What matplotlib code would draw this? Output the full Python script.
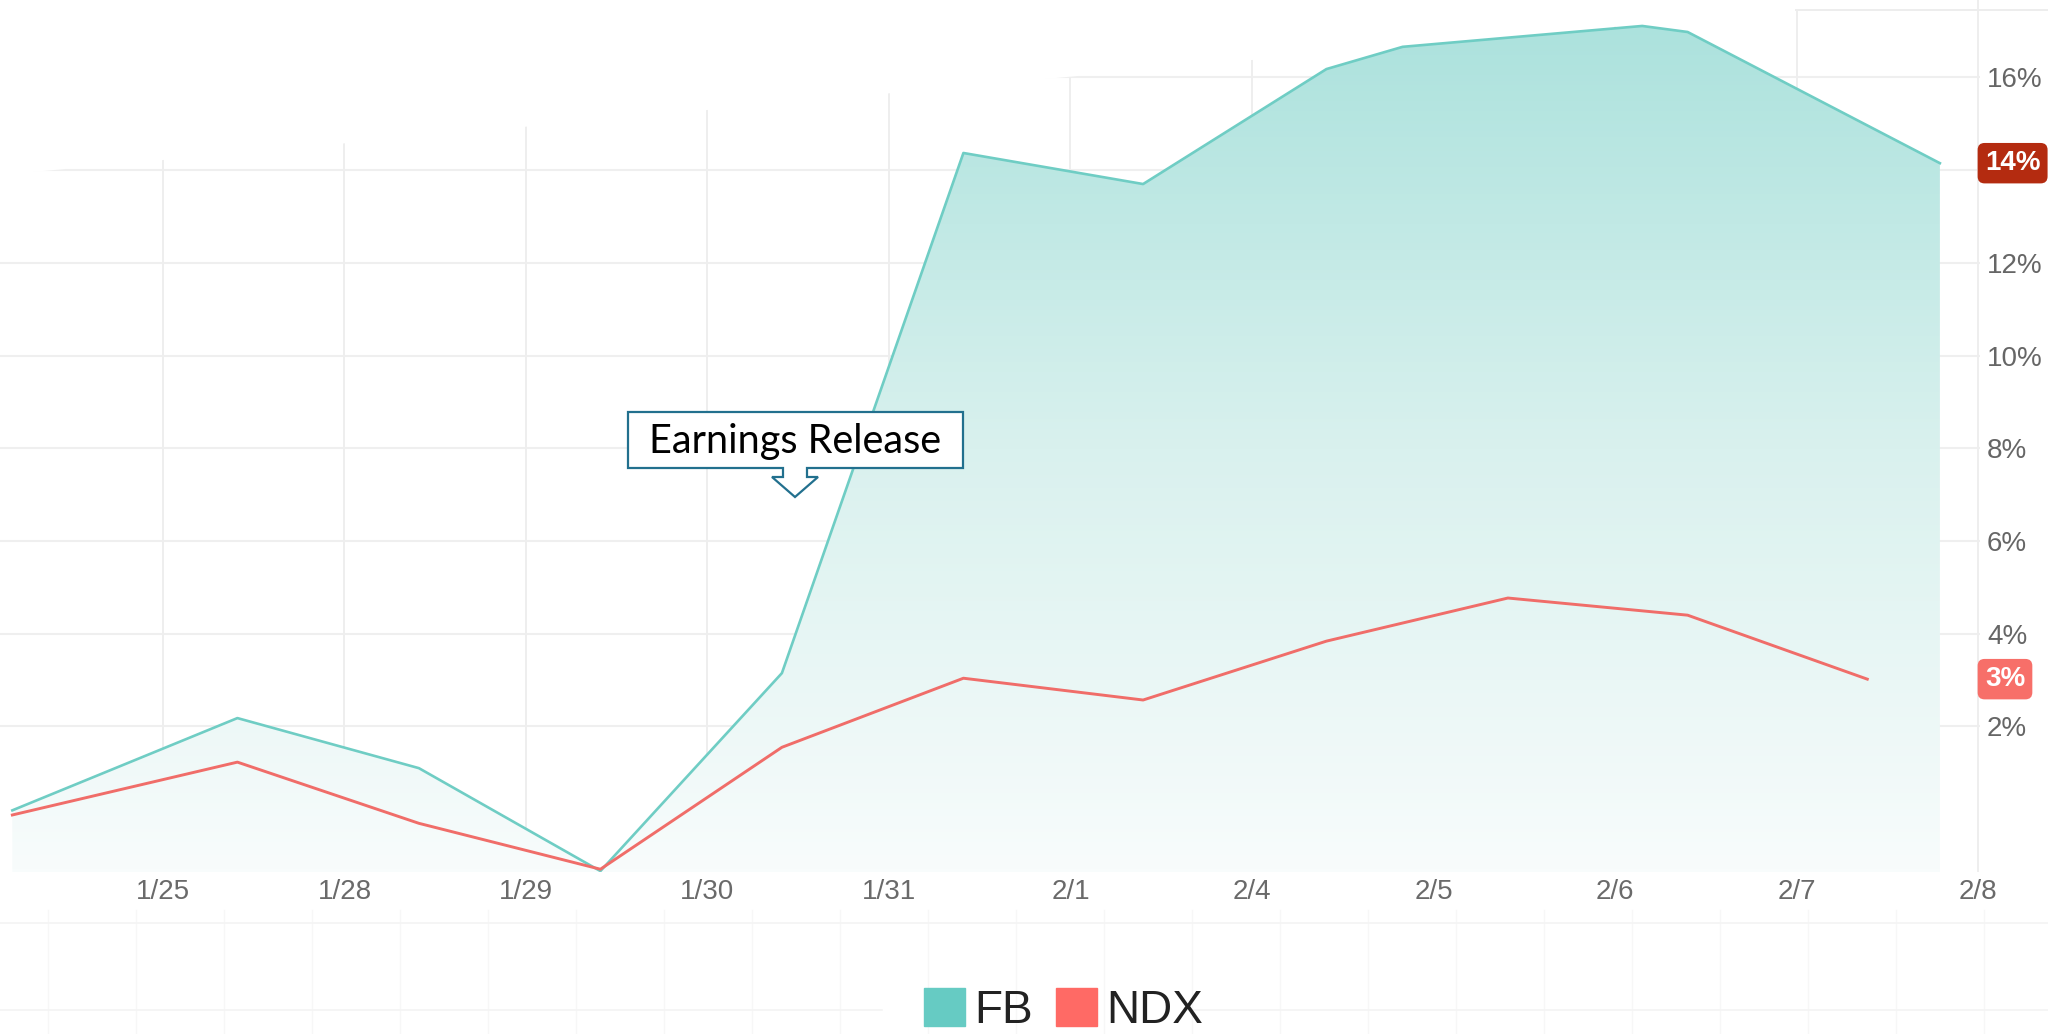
import matplotlib.pyplot as plt
import numpy as np
from matplotlib.patches import Patch, Polygon, Circle
from matplotlib.colors import LinearSegmentedColormap
from matplotlib.lines import Line2D

W, H, DPI = 2048, 1034, 100

# x tick labels (trading days)
days = ["1/25", "1/28", "1/29", "1/30", "1/31", "2/1", "2/4", "2/5", "2/6", "2/7", "2/8"]

# cumulative return in %, x in trading-day units (0 = the 1/25 tick)
fb_x = [-0.83, 0.41, 1.41, 2.41, 3.41, 4.41, 5.40, 6.41, 6.83, 8.15, 8.40, 9.79]
fb_y = [0.19, 2.18, 1.10, -1.12, 3.15, 14.37, 13.70, 16.18, 16.66, 17.11, 16.98, 14.15]
ndx_x = [-0.83, 0.41, 1.41, 2.41, 3.41, 4.41, 5.40, 6.41, 7.41, 8.40, 9.39]
ndx_y = [0.09, 1.23, -0.09, -1.08, 1.55, 3.04, 2.57, 3.84, 4.77, 4.40, 3.02]

y_grid = [2, 4, 6, 8, 10, 12, 14, 16]
y_labels = [2, 4, 6, 8, 10, 12, 16]  # 14% sits under the FB badge

fb_color = "#6fcdc4"
ndx_color = "#f06d69"

plt.rcParams["font.family"] = ["Liberation Sans", "DejaVu Sans"]


def fx(px):
    return px / W


def fy(py):
    return 1 - py / H


fig = plt.figure(figsize=(W / DPI, H / DPI), dpi=DPI)
fig.patch.set_facecolor("white")

ax = fig.add_axes([0, fy(872), fx(1980), 872 / H])
xmin, xmax = -0.898, 10.011
ymin, ymax = -1.14, 17.67

# grid
for v in y_grid:
    ax.axhline(v, color="#efefef", lw=1.5, zorder=0.5)
for i in range(len(days)):
    ax.axvline(i, color="#eeeeee", lw=1.4, zorder=0.5)

# white fade over the top-left corner (cuts the grid like in the screenshot)
ax.add_patch(Polygon([(0, 1), (fx(1905), 1), (0, fy(175))], closed=True,
                     transform=fig.transFigure, fc="white", ec="none", zorder=0.8))

# FB area with vertical gradient
fill = ax.fill_between(fb_x, fb_y, ymin, color="none", zorder=1)
cmap = LinearSegmentedColormap.from_list("fbfill", ["#f8fcfc", "#d9f1ee", "#ace2dd"])
grad = np.linspace(0, 1, 256).reshape(-1, 1)
im = ax.imshow(grad, extent=[xmin, xmax, ymin, max(fb_y)], origin="lower",
               aspect="auto", cmap=cmap, zorder=1)
im.set_clip_path(fill.get_paths()[0], transform=ax.transData)

ax.plot(fb_x, fb_y, color=fb_color, lw=1.9, zorder=3)
ax.plot(ndx_x, ndx_y, color=ndx_color, lw=2.1, zorder=3)

ax.set_xlim(xmin, xmax)
ax.set_ylim(ymin, ymax)

ax.set_xticks(range(len(days)), days)
ax.tick_params(axis="x", length=0, pad=5, labelsize=20, labelcolor="#6a6a6a")
ax.yaxis.tick_right()
ax.set_yticks(y_labels, [f"{v}%" for v in y_labels])
ax.tick_params(axis="y", length=0, pad=5, labelsize=20, labelcolor="#666666")
for s in ax.spines.values():
    s.set_visible(False)
ax.set_facecolor("none")

# last-value badges
for val, col in [(fb_y[-1], "#b42b10"), (ndx_y[-1], "#f76f69")]:
    ax.annotate(f"{round(val)}%", xy=(1, val), xycoords=("axes fraction", "data"),
                xytext=(3.5, 0), textcoords="offset points", ha="left", va="center",
                fontsize=20, fontweight="bold", color="white", annotation_clip=False,
                bbox=dict(boxstyle="round,pad=0.26,rounding_size=0.25", fc=col, ec="none"))

# callout "Earnings Release"
pts = [(628, 412), (963, 412), (963, 468), (807, 468), (807, 477), (818, 477),
       (795, 497), (772, 477), (783, 477), (783, 468), (628, 468)]
fig.add_artist(Polygon([(fx(x), fy(y)) for x, y in pts], closed=True,
                       transform=fig.transFigure, fc="white", ec="#22708e", lw=1.6, zorder=5))
fig.text(fx(795), fy(441), "Earnings Release", family=["Lato", "DejaVu Sans"],
         fontsize=28.5, color="black", ha="center", va="center", zorder=6)

# faint page grid below the chart
for k in range(24):
    x = 48 + 88 * k
    fig.add_artist(Line2D([fx(x), fx(x)], [fy(910), 0], color="#f7f7f7", lw=1, zorder=0))
fig.add_artist(Line2D([0, 1], [fy(923), fy(923)], color="#f4f4f4", lw=1.2, zorder=0))
for x0, x1 in [(0, 882), (1187, 2048)]:
    fig.add_artist(Line2D([fx(x0), fx(x1)], [fy(1010), fy(1010)], color="#f4f4f4", lw=1.2, zorder=0))
fig.add_artist(Line2D([fx(1796), 1], [fy(10), fy(10)], color="#ededed", lw=1.4))

# bit of a blue logo cut off at the top
fig.add_artist(Circle((fx(739), fy(-23.5)), fx(26), transform=fig.transFigure,
                      fc="#1a9fd8", ec="none"))

handles = [Patch(color="#66cbc3", label="FB"), Patch(color="#ff6a65", label="NDX")]
fig.legend(handles=handles, loc="upper left", bbox_to_anchor=(fx(924), fy(988)),
           ncol=2, frameon=False, fontsize=33, handlelength=0.9, handleheight=0.9,
           handletextpad=0.2, columnspacing=0.5, borderpad=0, borderaxespad=0,
           labelcolor="#222222")

fig.savefig("out.png", dpi=DPI, facecolor="white")
